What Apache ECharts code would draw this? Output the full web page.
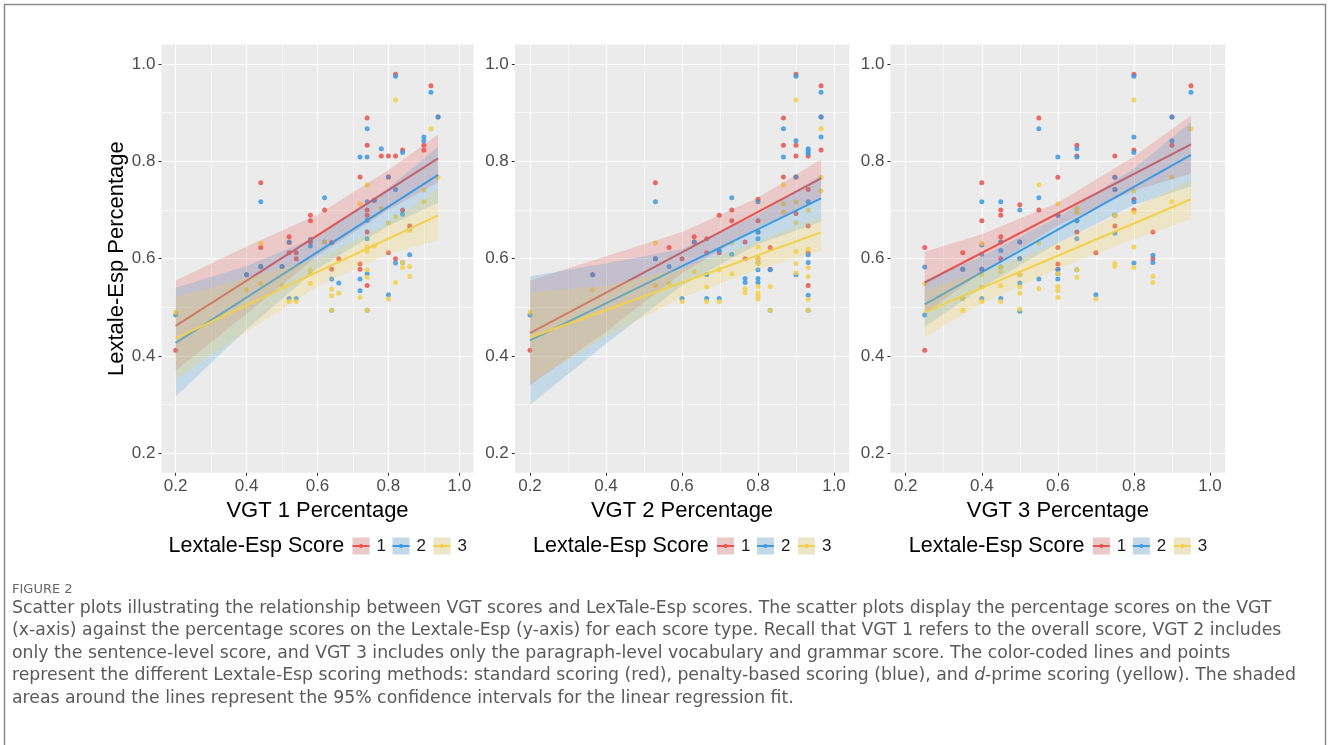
<!DOCTYPE html>
<html>
<head>
<meta charset="utf-8">
<title>Figure 2</title>
<script src="https://cdn.jsdelivr.net/npm/echarts@6/dist/echarts.min.js"></script>
<style>
  html, body { margin: 0; padding: 0; background: #fff; }
  #chart { width: 1328px; height: 745px; }
</style>
</head>
<body>
<div id="chart"></div>
<script>
// tick labels and titles
var tickValues = [0.2, 0.4, 0.6, 0.8, 1.0];
var xTitles = ['VGT 1 Percentage', 'VGT 2 Percentage', 'VGT 3 Percentage'];
var yTitle = 'Lextale-Esp Percentage';
var legendTitle = 'Lextale-Esp Score';
var groups = ['1', '2', '3'];

// ---- VGT 1 : points [x, y] ----
var p1Red = [[0.20,0.412],[0.40,0.567],[0.44,0.756],[0.44,0.623],[0.44,0.584],[0.50,0.584],[0.52,0.645],[0.52,0.633],[0.52,0.612],[0.54,0.612],[0.54,0.600],[0.58,0.689],[0.58,0.678],[0.58,0.634],[0.62,0.700],[0.64,0.633],[0.64,0.578],[0.66,0.600],[0.72,0.768],[0.72,0.589],[0.72,0.578],[0.74,0.889],[0.74,0.833],[0.74,0.700],[0.74,0.689],[0.74,0.655],[0.74,0.545],[0.76,0.720],[0.78,0.811],[0.80,0.811],[0.80,0.768],[0.80,0.612],[0.82,0.979],[0.82,0.811],[0.82,0.600],[0.84,0.823],[0.84,0.700],[0.86,0.667],[0.90,0.833],[0.90,0.823],[0.92,0.955],[0.94,0.891]];
var p1Blue = [[0.20,0.484],[0.40,0.567],[0.44,0.717],[0.44,0.584],[0.50,0.584],[0.52,0.634],[0.52,0.518],[0.54,0.518],[0.58,0.640],[0.58,0.626],[0.62,0.725],[0.62,0.634],[0.64,0.558],[0.64,0.494],[0.66,0.550],[0.72,0.809],[0.72,0.558],[0.72,0.534],[0.74,0.867],[0.74,0.809],[0.74,0.717],[0.74,0.679],[0.74,0.641],[0.74,0.569],[0.74,0.494],[0.76,0.720],[0.78,0.826],[0.80,0.768],[0.80,0.526],[0.82,0.975],[0.82,0.742],[0.82,0.591],[0.84,0.818],[0.84,0.691],[0.84,0.592],[0.86,0.660],[0.86,0.608],[0.90,0.850],[0.90,0.842],[0.92,0.942],[0.94,0.891]];
var p1Yellow = [[0.20,0.490],[0.40,0.536],[0.44,0.631],[0.44,0.549],[0.50,0.545],[0.52,0.512],[0.54,0.512],[0.58,0.577],[0.58,0.569],[0.58,0.549],[0.62,0.634],[0.64,0.537],[0.64,0.524],[0.64,0.494],[0.66,0.529],[0.72,0.713],[0.72,0.520],[0.74,0.752],[0.74,0.624],[0.74,0.615],[0.74,0.577],[0.74,0.562],[0.74,0.494],[0.76,0.626],[0.78,0.703],[0.80,0.674],[0.80,0.517],[0.82,0.926],[0.82,0.686],[0.82,0.551],[0.84,0.582],[0.84,0.592],[0.86,0.658],[0.86,0.584],[0.86,0.564],[0.90,0.741],[0.90,0.717],[0.92,0.867],[0.94,0.767]];

// ---- VGT 2 ----
var p2Red = [[0.20,0.412],[0.365,0.567],[0.53,0.756],[0.53,0.600],[0.566,0.623],[0.60,0.600],[0.632,0.645],[0.632,0.634],[0.665,0.641],[0.665,0.612],[0.698,0.689],[0.698,0.612],[0.731,0.700],[0.731,0.678],[0.766,0.634],[0.766,0.600],[0.80,0.722],[0.80,0.678],[0.80,0.655],[0.80,0.600],[0.832,0.623],[0.832,0.578],[0.867,0.889],[0.867,0.833],[0.867,0.768],[0.90,0.979],[0.90,0.833],[0.90,0.811],[0.90,0.768],[0.90,0.693],[0.932,0.811],[0.932,0.742],[0.932,0.667],[0.932,0.612],[0.932,0.545],[0.966,0.955],[0.966,0.891],[0.966,0.823]];
var p2Blue = [[0.20,0.484],[0.365,0.567],[0.53,0.717],[0.53,0.600],[0.566,0.584],[0.60,0.518],[0.632,0.634],[0.665,0.567],[0.665,0.518],[0.698,0.617],[0.698,0.518],[0.731,0.725],[0.731,0.609],[0.766,0.559],[0.766,0.551],[0.80,0.717],[0.80,0.655],[0.80,0.641],[0.80,0.591],[0.80,0.577],[0.80,0.559],[0.80,0.551],[0.832,0.577],[0.832,0.494],[0.867,0.867],[0.867,0.809],[0.90,0.975],[0.90,0.842],[0.90,0.768],[0.90,0.567],[0.932,0.826],[0.932,0.821],[0.932,0.816],[0.932,0.717],[0.932,0.608],[0.932,0.592],[0.932,0.525],[0.932,0.494],[0.966,0.942],[0.966,0.891],[0.966,0.850]];
var p2Yellow = [[0.20,0.490],[0.365,0.536],[0.53,0.632],[0.53,0.545],[0.566,0.549],[0.60,0.512],[0.632,0.573],[0.665,0.542],[0.665,0.512],[0.698,0.577],[0.698,0.512],[0.731,0.632],[0.731,0.569],[0.766,0.538],[0.766,0.530],[0.80,0.624],[0.80,0.600],[0.80,0.590],[0.80,0.543],[0.80,0.530],[0.80,0.524],[0.80,0.517],[0.832,0.543],[0.832,0.494],[0.867,0.752],[0.867,0.713],[0.867,0.696],[0.90,0.926],[0.90,0.717],[0.90,0.674],[0.90,0.614],[0.90,0.590],[0.90,0.571],[0.932,0.700],[0.932,0.620],[0.932,0.582],[0.932,0.564],[0.932,0.516],[0.932,0.494],[0.966,0.867],[0.966,0.767],[0.966,0.739]];

// ---- VGT 3 ----
var p3Red = [[0.25,0.623],[0.25,0.412],[0.35,0.612],[0.35,0.578],[0.40,0.756],[0.40,0.678],[0.40,0.578],[0.45,0.700],[0.45,0.689],[0.45,0.645],[0.45,0.634],[0.45,0.600],[0.50,0.711],[0.50,0.634],[0.50,0.600],[0.55,0.889],[0.55,0.700],[0.60,0.767],[0.60,0.689],[0.60,0.623],[0.60,0.589],[0.60,0.578],[0.65,0.833],[0.65,0.811],[0.65,0.678],[0.65,0.655],[0.70,0.612],[0.75,0.811],[0.75,0.767],[0.75,0.742],[0.75,0.689],[0.75,0.667],[0.80,0.979],[0.80,0.823],[0.80,0.722],[0.80,0.700],[0.85,0.655],[0.85,0.600],[0.90,0.891],[0.90,0.833],[0.95,0.955]];
var p3Blue = [[0.25,0.583],[0.25,0.484],[0.35,0.578],[0.35,0.518],[0.40,0.717],[0.40,0.628],[0.40,0.609],[0.40,0.578],[0.40,0.518],[0.45,0.717],[0.45,0.634],[0.45,0.617],[0.45,0.583],[0.45,0.518],[0.50,0.700],[0.50,0.634],[0.50,0.600],[0.50,0.567],[0.50,0.550],[0.50,0.492],[0.55,0.867],[0.55,0.725],[0.55,0.558],[0.60,0.809],[0.60,0.689],[0.60,0.578],[0.60,0.569],[0.60,0.558],[0.65,0.826],[0.65,0.809],[0.65,0.678],[0.65,0.641],[0.65,0.577],[0.70,0.526],[0.75,0.767],[0.75,0.742],[0.75,0.689],[0.75,0.652],[0.80,0.975],[0.80,0.850],[0.80,0.818],[0.80,0.717],[0.80,0.591],[0.85,0.607],[0.85,0.592],[0.90,0.891],[0.90,0.842],[0.95,0.942]];
var p3Yellow = [[0.25,0.549],[0.35,0.518],[0.35,0.494],[0.40,0.631],[0.40,0.567],[0.40,0.542],[0.40,0.512],[0.45,0.583],[0.45,0.573],[0.45,0.545],[0.45,0.512],[0.50,0.567],[0.50,0.542],[0.50,0.529],[0.50,0.496],[0.55,0.752],[0.55,0.632],[0.55,0.538],[0.60,0.713],[0.60,0.569],[0.60,0.543],[0.60,0.534],[0.60,0.520],[0.65,0.703],[0.65,0.695],[0.65,0.577],[0.65,0.562],[0.70,0.517],[0.75,0.689],[0.75,0.590],[0.75,0.584],[0.80,0.926],[0.80,0.739],[0.80,0.695],[0.80,0.624],[0.80,0.582],[0.85,0.564],[0.85,0.551],[0.90,0.767],[0.90,0.717],[0.95,0.867]];

// regression lines (ends) and 95% bands [x, lower, upper]
var p1RedFit = [[0.2,0.462],[0.94,0.806]];
var p1BlueFit = [[0.2,0.427],[0.94,0.772]];
var p1YellowFit = [[0.2,0.436],[0.94,0.689]];
var p1RedBand = [[0.2,0.370,0.555],[0.4,0.487,0.625],[0.6,0.606,0.690],[0.8,0.700,0.782],[0.94,0.757,0.855]];
var p1BlueBand = [[0.2,0.316,0.540],[0.4,0.455,0.585],[0.6,0.580,0.645],[0.8,0.667,0.745],[0.94,0.715,0.830]];
var p1YellowBand = [[0.2,0.353,0.521],[0.4,0.450,0.560],[0.6,0.543,0.600],[0.8,0.610,0.672],[0.94,0.638,0.744]];

var p2RedFit = [[0.2,0.447],[0.966,0.765]];
var p2BlueFit = [[0.2,0.432],[0.966,0.724]];
var p2YellowFit = [[0.2,0.438],[0.966,0.654]];
var p2RedBand = [[0.2,0.340,0.555],[0.4,0.450,0.605],[0.6,0.570,0.655],[0.8,0.664,0.725],[0.966,0.725,0.804]];
var p2BlueBand = [[0.2,0.300,0.564],[0.4,0.425,0.590],[0.6,0.545,0.620],[0.8,0.630,0.690],[0.966,0.676,0.772]];
var p2YellowBand = [[0.2,0.345,0.530],[0.4,0.440,0.545],[0.6,0.520,0.580],[0.8,0.578,0.635],[0.966,0.616,0.686]];

var p3RedFit = [[0.25,0.551],[0.95,0.835]];
var p3BlueFit = [[0.25,0.506],[0.95,0.813]];
var p3YellowFit = [[0.25,0.490],[0.95,0.722]];
var p3RedBand = [[0.25,0.487,0.614],[0.4,0.572,0.650],[0.6,0.668,0.715],[0.8,0.740,0.810],[0.95,0.775,0.894]];
var p3BlueBand = [[0.25,0.460,0.555],[0.4,0.540,0.605],[0.6,0.632,0.685],[0.8,0.710,0.785],[0.95,0.748,0.881]];
var p3YellowBand = [[0.25,0.439,0.535],[0.4,0.508,0.572],[0.6,0.580,0.632],[0.8,0.640,0.705],[0.95,0.681,0.761]];

// caption text
var figLabel = 'FIGURE 2';
var captionLines = [
  'Scatter plots illustrating the relationship between VGT scores and LexTale-Esp scores. The scatter plots display the percentage scores on the VGT',
  '(x-axis) against the percentage scores on the Lextale-Esp (y-axis) for each score type. Recall that VGT 1 refers to the overall score, VGT 2 includes',
  'only the sentence-level score, and VGT 3 includes only the paragraph-level vocabulary and grammar score. The color-coded lines and points',
  'represent the different Lextale-Esp scoring methods: standard scoring (red), penalty-based scoring (blue), and {i|d}-prime scoring (yellow). The shaded',
  'areas around the lines represent the 95% confidence intervals for the linear regression fit.'
];

var colors = ['#E8534E', '#3D9AE0', '#F4D04A'];
var fills = ['rgba(232,83,78,0.22)', 'rgba(61,154,224,0.22)', 'rgba(244,208,74,0.24)'];
var FONT = '"Liberation Sans", Arial, Helvetica, sans-serif';

var panels = [
  { pts: [p1Red, p1Blue, p1Yellow], fits: [p1RedFit, p1BlueFit, p1YellowFit], bands: [p1RedBand, p1BlueBand, p1YellowBand] },
  { pts: [p2Red, p2Blue, p2Yellow], fits: [p2RedFit, p2BlueFit, p2YellowFit], bands: [p2RedBand, p2BlueBand, p2YellowBand] },
  { pts: [p3Red, p3Blue, p3Yellow], fits: [p3RedFit, p3BlueFit, p3YellowFit], bands: [p3RedBand, p3BlueBand, p3YellowBand] }
];

// panel boxes in px: [left, width]; axis range 0.16 - 1.04 like ggplot's expansion
var boxes = [[161.5, 312], [514.8, 334.4], [890.5, 334.7]];
var PTOP = 44.5, PH = 428.3;

// background grid: a tick every 0.02 from 0.16, only tenths are painted
var none = 'rgba(0,0,0,0)';
var gridCycle = [none, none, '#ffffff', none, none, none, none, 'rgba(255,255,255,0.6)', none, none];

// axes 0-2 carry ticks, labels and titles; axes 3-5 only draw the white grid
function labelAxis(i, dim) {
  var a = {
    type: 'value', gridIndex: i, min: 0.16, max: 1.04,
    position: dim === 'x' ? 'bottom' : 'left',
    axisLine: { show: false },
    axisTick: { show: true, customValues: tickValues, length: 3, lineStyle: { color: '#333', width: 1 } },
    axisLabel: {
      customValues: tickValues, margin: dim === 'x' ? 5 : 6,
      formatter: function (v) { return v.toFixed(1); },
      fontSize: 17, color: '#4D4D4D', fontFamily: FONT
    },
    splitLine: { show: false }
  };
  if (dim === 'x') {
    a.name = xTitles[i];
    a.nameLocation = 'middle';
    a.nameGap = 17;
    a.nameTextStyle = { fontSize: 22, color: '#000', fontFamily: FONT };
  } else if (i === 0) {
    a.name = yTitle;
    a.nameLocation = 'middle';
    a.nameGap = 31;
    a.nameRotate = 90;
    a.nameTextStyle = { fontSize: 22, color: '#000', fontFamily: FONT };
  }
  return a;
}

function gridAxis(i, dim) {
  return {
    type: 'value', gridIndex: i, min: 0.16, max: 1.04, interval: 0.02,
    position: dim === 'x' ? 'bottom' : 'left',
    axisLine: { show: false }, axisTick: { show: false }, axisLabel: { show: false },
    splitLine: { show: true, lineStyle: { color: gridCycle, width: 1.1 } }
  };
}

function bandSeries(band, fill, i, z) {
  return {
    type: 'custom', xAxisIndex: i, yAxisIndex: i, silent: true, z: z,
    encode: { x: 0, y: [1, 2] },
    data: band,
    renderItem: function (params, api) {
      if (params.dataIndex !== 0) return null;
      var up = band.map(function (d) { return api.coord([d[0], d[2]]); });
      var lo = band.slice().reverse().map(function (d) { return api.coord([d[0], d[1]]); });
      return { type: 'polygon', shape: { points: up.concat(lo) }, style: { fill: fill } };
    }
  };
}

var series = [];
panels.forEach(function (p, i) {
  // points go under the smooths, as in ggplot
  p.pts.forEach(function (pts, g) {
    series.push({
      type: 'scatter', name: groups[g], xAxisIndex: i, yAxisIndex: i, silent: true, z: 2,
      symbolSize: 5, data: pts,
      itemStyle: { color: colors[g], opacity: 0.85 }
    });
  });
  // ribbon then line for each group, so later ribbons wash over earlier lines
  p.fits.forEach(function (fit, g) {
    series.push(bandSeries(p.bands[g], fills[g], i, 3 + 2 * g));
    series.push({
      type: 'line', name: groups[g], xAxisIndex: i, yAxisIndex: i, silent: true, z: 4 + 2 * g,
      data: fit, showSymbol: false,
      lineStyle: { color: colors[g], width: 2 }
    });
  });
});

// legend under each panel, border and caption
var graphic = [{
  type: 'polyline', silent: true,
  shape: { points: [[4.5, 745], [4.5, 4.5], [1325.5, 4.5], [1325.5, 745]] },
  style: { stroke: '#8a8a8a', lineWidth: 1.5, fill: null }
}];
var keyOffsets = [35, 75, 116];
boxes.forEach(function (b) {
  var c = b[0] + b[1] / 2, ly = 546;
  graphic.push({
    type: 'text', x: c - 149, y: ly, silent: true,
    style: { text: legendTitle, fill: '#000', fontSize: 21.5, fontFamily: FONT, align: 'left', verticalAlign: 'middle' }
  });
  keyOffsets.forEach(function (off, g) {
    var kx = c + off;
    graphic.push({ type: 'rect', silent: true, shape: { x: kx, y: ly - 8.5, width: 17, height: 17 }, style: { fill: '#EBEBEB' } });
    graphic.push({ type: 'rect', silent: true, shape: { x: kx, y: ly - 8.5, width: 17, height: 17 }, style: { fill: fills[g] } });
    graphic.push({ type: 'line', silent: true, shape: { x1: kx, y1: ly, x2: kx + 17, y2: ly }, style: { stroke: colors[g], lineWidth: 2 } });
    graphic.push({ type: 'circle', silent: true, shape: { cx: kx + 8.5, cy: ly, r: 2 }, style: { fill: colors[g] } });
    graphic.push({
      type: 'text', x: kx + 24, y: ly, silent: true,
      style: { text: groups[g], fill: '#1a1a1a', fontSize: 17, fontFamily: FONT, align: 'left', verticalAlign: 'middle' }
    });
  });
});

var CAP_FONT = '"DejaVu Sans", "Open Sans", sans-serif';
graphic.push({
  type: 'text', x: 12, y: 590, silent: true,
  style: { text: figLabel, fill: '#666', fontSize: 13, fontFamily: CAP_FONT, align: 'left', verticalAlign: 'middle' }
});
captionLines.forEach(function (line, k) {
  graphic.push({
    type: 'text', x: 12, y: 608.5 + k * 22.5, silent: true,
    style: {
      text: line, fill: '#5a5a5a', fontSize: 17.3, fontFamily: CAP_FONT, align: 'left', verticalAlign: 'middle',
      rich: { i: { fontStyle: 'italic', fontSize: 17.3, fontFamily: CAP_FONT, fill: '#5a5a5a' } }
    }
  });
});

var myChart = echarts.init(document.getElementById('chart'));
myChart.setOption({
  backgroundColor: '#ffffff',
  animation: false,
  grid: boxes.map(function (b) {
    return { left: b[0], width: b[1], top: PTOP, height: PH, show: true, backgroundColor: '#EBEBEB', borderWidth: 0 };
  }),
  xAxis: [0, 1, 2].map(function (i) { return labelAxis(i, 'x'); }).concat([0, 1, 2].map(function (i) { return gridAxis(i, 'x'); })),
  yAxis: [0, 1, 2].map(function (i) { return labelAxis(i, 'y'); }).concat([0, 1, 2].map(function (i) { return gridAxis(i, 'y'); })),
  series: series,
  graphic: graphic
});
</script>
</body>
</html>
